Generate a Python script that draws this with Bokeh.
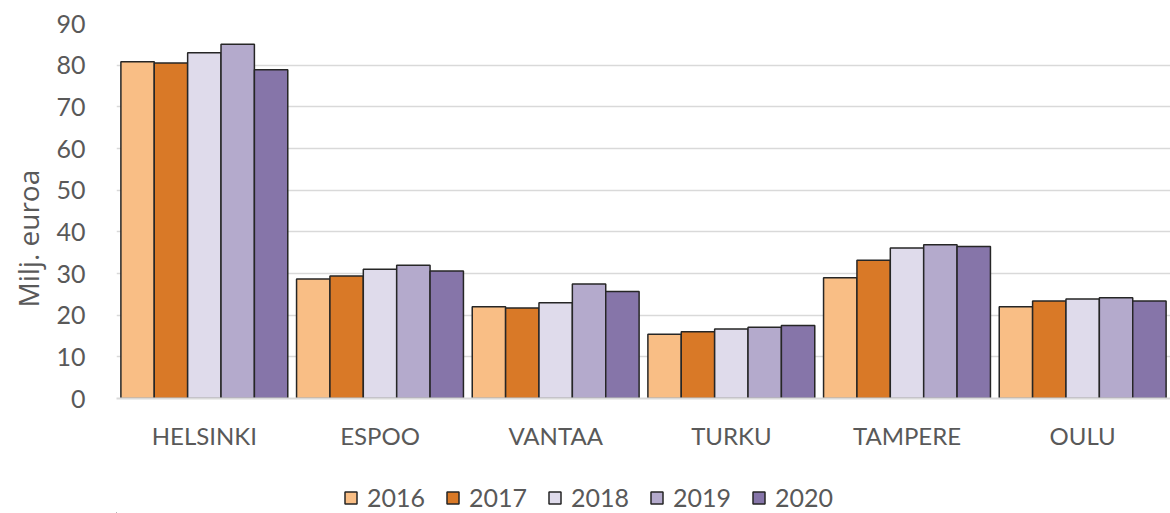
from bokeh.plotting import figure
from bokeh.models import ColumnDataSource, FactorRange, Range1d, Legend, LegendItem, FixedTicker, Title
from bokeh.layouts import column
from bokeh.transform import dodge
from bokeh.embed import file_html
from bokeh.resources import INLINE

cities = ["HELSINKI", "ESPOO", "VANTAA", "TURKU", "TAMPERE", "OULU"]
years = ["2016", "2017", "2018", "2019", "2020"]
v2016 = [80.8, 28.7, 22.0, 15.4, 29.0, 22.0]
v2017 = [80.5, 29.4, 21.7, 16.0, 33.2, 23.4]
v2018 = [83.0, 31.0, 23.0, 16.7, 36.1, 23.9]
v2019 = [85.0, 32.0, 27.5, 17.1, 36.9, 24.2]
v2020 = [78.9, 30.6, 25.7, 17.5, 36.5, 23.4]
colors = ["#F9BE85", "#D97927", "#DFDBEB", "#B4AACC", "#8675A9"]
yticks = [0, 10, 20, 30, 40, 50, 60, 70, 80, 90]
ylabel = "Milj. euroa"

src = ColumnDataSource(dict(city=cities, y2016=v2016, y2017=v2017, y2018=v2018,
                            y2019=v2019, y2020=v2020))

FONT = "Lato"
TXT = "#595959"

p = figure(x_range=FactorRange(*cities, range_padding=0), y_range=Range1d(0, 90),
           width=1170, height=463, output_backend="svg", toolbar_location=None,
           min_border_left=116, min_border_right=0, min_border_top=23, min_border_bottom=65)
p.outline_line_color = None

bw = 0.19
offsets = [-2 * bw, -bw, 0, bw, 2 * bw]
for yr, col, off in zip(years, colors, offsets):
    p.vbar(x=dodge("city", off, range=p.x_range), top="y" + yr, width=bw, source=src,
           fill_color=col, line_color="#262626", line_width=1.5)

# axes
p.yaxis.ticker = FixedTicker(ticks=yticks)
p.yaxis.axis_line_color = None
p.yaxis.major_tick_line_color = None
p.yaxis.minor_tick_line_color = None
p.yaxis.major_label_text_font = FONT
p.yaxis.major_label_text_font_size = "25px"
p.yaxis.major_label_text_color = TXT
p.yaxis.major_label_standoff = 25

ytitle = Title(text=ylabel, align="left", offset=91, standoff=13,
               text_font="Open Sans", text_font_size="28px", text_font_style="normal",
               text_color=TXT)
p.add_layout(ytitle, "left")

p.xaxis.axis_line_color = "#D9D9D9"
p.xaxis.axis_line_width = 2
p.xaxis.major_tick_line_color = None
p.xaxis.minor_tick_line_color = None
p.xaxis.major_label_text_font = FONT
p.xaxis.major_label_text_font_size = "24px"
p.xaxis.major_label_text_color = TXT
p.xaxis.major_label_standoff = 16

p.xgrid.grid_line_color = None
p.ygrid.grid_line_color = "#D9D9D9"
p.ygrid.grid_line_width = 1.5

# legend strip
lg = figure(width=1170, height=50, output_backend="svg", toolbar_location=None,
            x_range=Range1d(0, 1170), y_range=Range1d(0, 50),
            min_border_left=0, min_border_right=0, min_border_top=0, min_border_bottom=0)
lg.axis.visible = False
lg.grid.grid_line_color = None
lg.outline_line_color = None
items = []
for yr, col in zip(years, colors):
    r = lg.vbar(x=[-5000], bottom=[-1000], top=[-999], width=1,
                fill_color=col, line_color="#262626", line_width=1.5)
    items.append(LegendItem(label=yr, renderers=[r]))
legend = Legend(items=items, orientation="horizontal", location=(227, 1))
legend.glyph_width = 15
legend.glyph_height = 15
legend.label_standoff = 9
legend.spacing = 20
legend.padding = 0
legend.margin = 0
legend.border_line_color = None
legend.background_fill_alpha = 0
legend.label_text_font = FONT
legend.label_text_font_size = "25px"
legend.label_text_color = TXT
lg.add_layout(legend, "center")

open("out.html", "w").write(file_html(column(p, lg, spacing=0), INLINE))
